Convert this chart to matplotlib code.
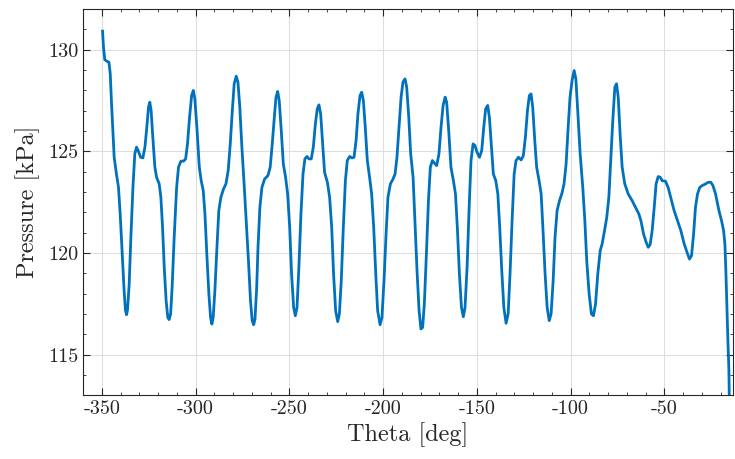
import matplotlib
matplotlib.use("Agg")
import matplotlib.pyplot as plt
from matplotlib.ticker import MultipleLocator

plt.rcParams['font.family'] = 'serif'
plt.rcParams['font.serif'] = ['cmr10', 'DejaVu Serif']
plt.rcParams['axes.unicode_minus'] = False
plt.rcParams['mathtext.fontset'] = 'cm'

# crank angle [deg] and pressure [kPa]
theta = [
    -349.6, -349.1, -348.4, -347.3, -346.2, -345.5, -344.8, -344.1, -343.4, -342.2,
    -341.1, -340.2, -339.1, -338.1, -337.4, -336.8, -336.3, -335.4, -334.5, -333.4,
    -332.4, -331.5, -330.6, -329.3, -328.1, -327.0, -326.0, -325.1, -324.4, -323.7,
    -322.8, -321.7, -320.8, -319.4, -318.5, -317.6, -316.7, -315.7, -314.8, -314.1,
    -313.3, -312.5, -311.4, -310.1, -309.1, -307.8, -306.4, -305.3, -304.3, -303.2,
    -302.1, -301.2, -300.4, -299.3, -298.0, -297.0, -295.9, -295.0, -294.0, -292.9,
    -292.0, -291.3, -290.6, -289.7, -288.6, -287.6, -286.5, -285.1, -283.8, -282.6,
    -281.5, -280.4, -279.4, -278.3, -277.4, -276.4, -275.3, -274.0, -272.8, -271.7,
    -270.7, -269.8, -269.0, -268.3, -267.4,
    -266.7, -265.7, -264.6, -263.2, -261.4, -260.2, -259.1, -258.0, -257.1, -256.2,
    -255.4, -254.3, -253.2, -252.0, -250.9, -249.8, -248.8, -247.7, -246.8, -245.9,
    -244.9, -243.8, -242.7, -241.7, -240.6, -239.5, -238.3, -237.2, -236.1, -235.1,
    -234.2, -233.3, -232.2, -231.2, -229.7, -228.5, -227.4, -226.4, -225.3, -224.2,
    -223.3, -222.3, -221.2, -220.1, -219.1, -217.8, -216.6, -215.5, -214.4, -213.4,
    -212.3, -211.4, -210.5, -209.5, -208.4, -207.2, -206.1, -205.0, -203.9, -202.9,
    -201.6, -200.6, -199.5, -198.4, -197.4, -196.1, -194.7, -193.6, -192.6, -191.5,
    -190.4, -189.4, -188.3, -187.4, -186.3, -185.3,
    -184.0, -183.0, -181.9, -180.8, -179.8, -178.9, -178.0, -176.9, -175.8, -174.8,
    -173.7, -172.6, -171.4, -170.2, -169.1, -168.0, -166.9, -166.1, -165.0, -163.8,
    -162.5, -161.4, -160.4, -159.3, -158.2, -157.2, -156.3, -155.2, -154.1, -153.1,
    -152.0, -151.0, -149.9, -148.6, -147.4, -146.3, -145.3, -144.2, -143.3, -142.2,
    -141.2, -139.9, -138.8, -137.8, -136.7, -135.6, -134.4, -133.3, -132.3, -131.2,
    -130.1, -129.1, -127.8, -126.4, -125.2, -124.1, -123.0, -122.0, -121.1, -120.2,
    -119.1, -118.1, -116.8, -115.7, -114.7, -113.6, -112.5, -111.4, -110.4, -109.3,
    -108.3, -107.2, -105.9, -104.7, -103.5, -102.4, -101.3, -100.3,
    -99.2, -98.1, -97.2, -96.2, -94.9, -93.5, -92.4, -91.4, -90.1, -88.9,
    -87.8, -86.7, -85.5, -84.2, -83.2, -81.9, -80.7, -79.6, -78.6, -77.5,
    -76.4, -75.5, -74.6, -73.6, -72.5, -71.1, -69.3, -67.2, -65.4, -63.6,
    -62.5, -61.1, -59.7, -58.6, -57.6, -56.5, -55.4, -54.4, -53.3, -52.2,
    -51.2, -49.4, -48.0, -46.6, -44.8, -43.0, -41.2, -39.4, -37.6, -36.6,
    -35.5, -34.4, -33.4, -32.3, -31.1, -29.8, -28.0, -26.6, -25.2, -24.1,
    -22.7, -20.9, -19.5, -18.4, -17.7, -17.2, -16.7, -16.1, -15.6, -15.3,
]
pressure = [
    130.92, 130.13, 129.51, 129.44, 129.39, 128.82, 127.34, 126.03, 124.71, 123.89,
    123.23, 121.92, 119.95, 118.14, 117.19, 116.96, 117.19, 118.47, 120.77, 123.23,
    124.88, 125.21, 125.04, 124.71, 124.68, 125.21, 126.19, 127.18, 127.42, 127.01,
    125.70, 124.22, 123.73, 123.40, 122.74, 121.26, 119.29, 117.65, 116.83, 116.72,
    117.00, 118.31, 120.77, 123.23, 124.22, 124.52, 124.52, 124.63, 125.37, 126.68,
    127.75, 128.00, 127.59, 126.19, 124.22, 123.56, 123.07, 121.92, 119.95, 117.98,
    116.83, 116.50, 116.83, 118.14, 120.28, 122.09, 122.74, 123.15, 123.40, 124.06,
    125.37, 127.01, 128.33, 128.70, 128.41, 127.18, 125.21, 123.23, 121.26, 119.46,
    117.65, 116.67, 116.47, 116.75, 118.31,
    120.28, 122.25, 123.23, 123.64, 123.81, 124.22, 125.37, 126.68, 127.67, 127.95,
    127.51, 126.03, 124.38, 123.73, 122.91, 121.26, 118.97, 117.32, 116.91, 117.32,
    119.29, 121.92, 123.89, 124.63, 124.75, 124.63, 124.63, 125.21, 126.35, 127.09,
    127.29, 126.85, 125.37, 123.97, 123.48, 122.74, 121.26, 118.97, 117.16, 116.62,
    117.00, 118.64, 121.26, 123.56, 124.55, 124.75, 124.68, 124.71, 125.53, 126.85,
    127.75, 127.91, 127.50, 126.19, 124.55, 123.73, 122.91, 121.26, 118.97, 117.16,
    116.47, 116.83, 118.64, 120.94, 122.74, 123.40, 123.64, 123.89, 124.71, 126.19,
    127.67, 128.41, 128.57, 128.16, 126.68, 124.90,
    123.73, 121.59, 119.13, 117.16, 116.26, 116.34, 117.49, 119.95, 122.58, 124.22,
    124.55, 124.42, 124.30, 124.88, 126.19, 127.26, 127.67, 127.42, 126.03, 124.22,
    123.56, 122.91, 121.26, 118.97, 117.32, 116.86, 117.32, 119.29, 122.25, 124.55,
    125.37, 125.29, 124.96, 124.71, 125.04, 126.19, 127.09, 127.26, 126.68, 125.21,
    123.89, 123.56, 122.91, 121.26, 119.13, 117.32, 116.54, 117.00, 118.97, 121.59,
    123.89, 124.55, 124.71, 124.58, 124.79, 125.70, 127.01, 127.75, 127.83, 127.18,
    125.53, 124.22, 123.56, 122.91, 121.10, 118.97, 117.32, 116.67, 117.00, 118.64,
    120.77, 122.09, 122.58, 122.91, 123.40, 124.38, 126.19, 127.67,
    128.50, 128.98, 128.57, 127.01, 124.88, 123.23, 121.59, 119.62, 117.98, 117.00,
    116.91, 117.49, 118.97, 120.12, 120.44, 121.10, 121.76, 122.74, 124.55, 126.52,
    128.16, 128.33, 127.67, 125.86, 124.22, 123.40, 122.91, 122.58, 122.25, 121.92,
    121.59, 120.94, 120.53, 120.28, 120.41, 121.10, 122.25, 123.40, 123.76, 123.73,
    123.56, 123.53, 123.23, 122.74, 122.09, 121.59, 121.10, 120.44, 119.95, 119.70,
    119.87, 120.94, 122.25, 122.91, 123.23, 123.32, 123.40, 123.48, 123.48, 123.32,
    122.91, 122.09, 121.59, 121.10, 120.44, 119.13, 117.49, 115.68, 114.30, 112.50,
]

fig = plt.figure(figsize=(7.35, 4.59), dpi=100)
ax = fig.add_axes([0.113, 0.139, 0.884, 0.841])

ax.plot(theta, pressure, color='#0072BD', linewidth=2.0, solid_joinstyle='round')

ax.set_xlim(-360, -13.5)
ax.set_ylim(113, 132)
ax.xaxis.set_major_locator(MultipleLocator(50))
ax.xaxis.set_minor_locator(MultipleLocator(10))
ax.yaxis.set_major_locator(MultipleLocator(5))
ax.yaxis.set_minor_locator(MultipleLocator(1))
ax.grid(True, which='major', color='#dedede', linewidth=0.8)
ax.set_axisbelow(True)
ax.tick_params(which='both', direction='in', top=True, right=True, colors='#262626',
               labelsize=14.5)
ax.tick_params(which='major', length=5)
ax.tick_params(which='minor', length=2.5)
for s in ax.spines.values():
    s.set_color('#262626')
    s.set_linewidth(0.8)

ax.set_xlabel('Theta [deg]', fontsize=17.5, color='#262626', labelpad=3)
ax.set_ylabel('Pressure [kPa]', fontsize=17.5, color='#262626', labelpad=6)

fig.savefig('out.png', dpi=100)
